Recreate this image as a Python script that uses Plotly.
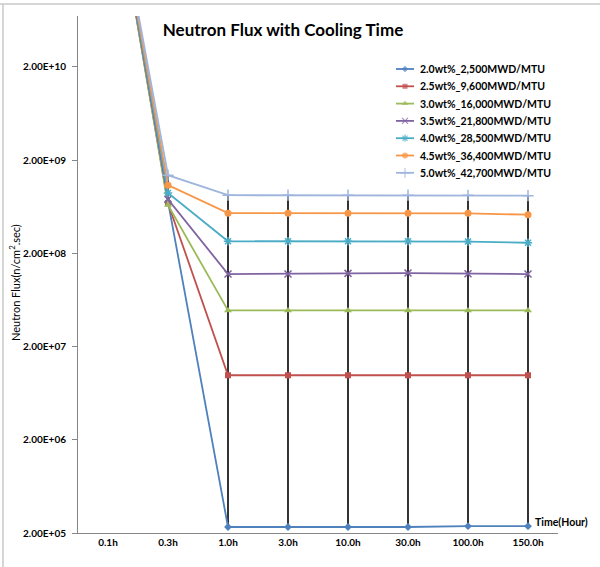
import plotly.graph_objects as go

categories = ["0.1h", "0.3h", "1.0h", "3.0h", "10.0h", "30.0h", "100.0h", "150.0h"]

series_names = [
    "2.0wt%_2,500MWD/MTU",
    "2.5wt%_9,600MWD/MTU",
    "3.0wt%_16,000MWD/MTU",
    "3.5wt%_21,800MWD/MTU",
    "4.0wt%_28,500MWD/MTU",
    "4.5wt%_36,400MWD/MTU",
    "5.0wt%_42,700MWD/MTU",
]

flux_20 = [4.3e12, 7.2e8, 2.32e5, 2.32e5, 2.32e5, 2.32e5, 2.37e5, 2.37e5]
flux_25 = [4.3e12, 6.9e8, 9.85e6, 9.85e6, 9.85e6, 9.85e6, 9.85e6, 9.85e6]
flux_30 = [4.3e12, 6.6e8, 4.89e7, 4.89e7, 4.89e7, 4.89e7, 4.89e7, 4.89e7]
flux_35 = [4.3e12, 7.6e8, 1.20e8, 1.20e8, 1.22e8, 1.23e8, 1.21e8, 1.20e8]
flux_40 = [4.3e12, 8.9e8, 2.70e8, 2.70e8, 2.70e8, 2.70e8, 2.68e8, 2.60e8]
flux_45 = [4.3e12, 1.08e9, 5.40e8, 5.40e8, 5.40e8, 5.40e8, 5.38e8, 5.20e8]
flux_50 = [4.3e12, 1.38e9, 8.42e8, 8.42e8, 8.42e8, 8.42e8, 8.40e8, 8.32e8]

y_tick_vals = [2e5, 2e6, 2e7, 2e8, 2e9, 2e10]
y_tick_text = ["2.00E+05", "2.00E+06", "2.00E+07", "2.00E+08", "2.00E+09", "2.00E+10"]

all_series = [flux_20, flux_25, flux_30, flux_35, flux_40, flux_45, flux_50]
colors = ["#4F81BD", "#C0504D", "#9BBB59", "#8064A2", "#4BACC6", "#F79646", "#9FB5DE"]
symbols = ["diamond", "square", "triangle-up", "x-thin-open", "asterisk-open", "circle", "cross-thin-open"]
sizes = [6, 6, 7, 7, 7, 7, 8]

FONT = "Lato"
L, R, T, B = 78, 558, 16, 533
W, H = 600, 567

fig = go.Figure()

# high-low lines
hl_x, hl_y = [], []
for i, c in enumerate(categories):
    vals = [s[i] for s in all_series]
    hl_x += [c, c, None]
    hl_y += [min(vals), max(vals), None]
fig.add_trace(go.Scatter(x=hl_x, y=hl_y, mode="lines", line=dict(color="#000000", width=1.6),
                         showlegend=False, hoverinfo="skip"))

for name, vals, col, sym, sz in zip(series_names, all_series, colors, symbols, sizes):
    open_sym = sym.endswith("open")
    fig.add_trace(go.Scatter(
        x=categories, y=vals, name=name, mode="lines+markers", showlegend=False,
        line=dict(color=col, width=1.8),
        marker=dict(symbol=sym, size=sz, color=col,
                    line=dict(color=col, width=1.5 if open_sym else 0)),
    ))

# custom legend drawn on a pixel-scaled overlay axis
LEG_X0, LEG_X1, LEG_Y0, LEG_DY = 396, 414, 69, 17.3
for i, (name, col, sym, sz) in enumerate(zip(series_names, colors, symbols, sizes)):
    yc = LEG_Y0 + LEG_DY * i
    open_sym = sym.endswith("open")
    fig.add_trace(go.Scatter(
        x=[LEG_X0, (LEG_X0 + LEG_X1) / 2, LEG_X1], y=[yc, yc, yc], xaxis="x2", yaxis="y2",
        mode="lines+markers", showlegend=False, hoverinfo="skip", cliponaxis=False,
        line=dict(color=col, width=1.8),
        marker=dict(symbol=sym, size=[0, sz - 1, 0], color=col,
                    line=dict(color=col, width=1.3 if open_sym else 0)),
    ))
    fig.add_annotation(text=f"<b>{name}</b>", xref="x2", yref="y2", x=LEG_X1 + 4, y=yc,
                       xanchor="left", yanchor="middle", showarrow=False,
                       font=dict(family=FONT, size=10.5, color="#000000"))


def px(x):
    return (x - L) / (R - L)


def py(y):
    return (B - y) / (B - T)


fig.update_layout(
    width=W, height=H,
    margin=dict(l=L, r=W - R, t=T, b=H - B),
    paper_bgcolor="white", plot_bgcolor="white",
    font=dict(family=FONT, color="#000000"),
    title=dict(text="<b>Neutron Flux with Cooling Time</b>", font=dict(family=FONT, size=17, color="#000000"),
               x=283 / W, xanchor="center", y=1 - 30 / H, yanchor="middle"),
    showlegend=False,
    xaxis=dict(type="category", categoryorder="array", categoryarray=categories,
               range=[-0.5, 7.5], showgrid=False, zeroline=False,
               showline=True, linecolor="#868686", linewidth=1, ticks="",
               tickfont=dict(family=FONT, size=10, color="#000000", weight="bold")),
    yaxis=dict(type="log", range=[5.30103, 10.848], showgrid=False, zeroline=False,
               showline=True, linecolor="#868686", linewidth=1,
               ticks="outside", ticklen=5, tickcolor="#868686",
               tickvals=y_tick_vals, ticktext=y_tick_text, ticklabelstandoff=4,
               tickfont=dict(family=FONT, size=10, color="#000000", weight="bold")),
    xaxis2=dict(overlaying="x", range=[L, R], visible=False, fixedrange=True),
    yaxis2=dict(overlaying="y", range=[B, T], visible=False, fixedrange=True),
)

fig.add_annotation(text="Neutron Flux(n/cm<sup>2</sup>.sec)", textangle=-90,
                   xref="paper", yref="paper", x=px(14), y=py(283),
                   xanchor="center", yanchor="middle", showarrow=False,
                   font=dict(family=FONT, size=11, color="#000000"))

fig.add_annotation(text="<b>Time(Hour)</b>", xref="paper", yref="paper",
                   x=px(533), y=py(522), xanchor="left", yanchor="middle",
                   showarrow=False, font=dict(family=FONT, size=10.5, color="#000000"))

# spreadsheet frame lines
fig.add_shape(type="line", xref="paper", yref="paper", x0=px(0), x1=px(600), y0=py(4), y1=py(4),
              line=dict(color="#C8C8C8", width=1.5))
fig.add_shape(type="line", xref="paper", yref="paper", x0=px(3), x1=px(3), y0=py(4), y1=py(567),
              line=dict(color="#C8C8C8", width=1.5))

fig.write_html("out.html")
